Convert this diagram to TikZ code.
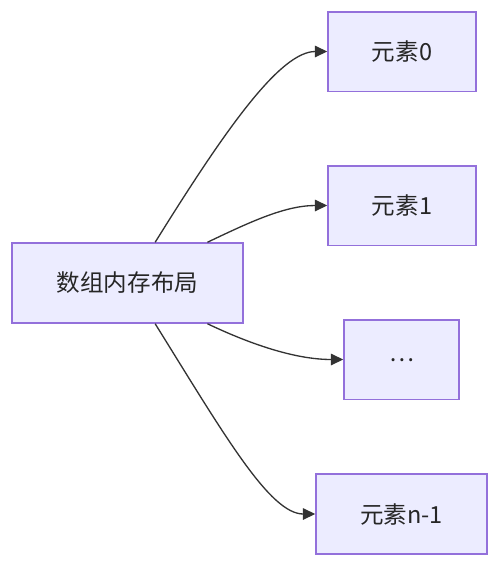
\documentclass[tikz,border=0pt]{standalone}
\usepackage{fontspec}
\setmainfont{Noto Sans CJK SC}
\usetikzlibrary{calc,arrows.meta}
\definecolor{boxfill}{HTML}{ECECFF}
\definecolor{boxline}{HTML}{9370DB}
\definecolor{edgeline}{HTML}{333333}
\tikzset{
	membox/.style={draw=boxline, fill=boxfill, line width=0.85pt, minimum height=1.59cm, inner sep=0pt, font=\fontsize{13.4}{16}\selectfont, text=black!85},
	link/.style={draw=edgeline, line width=0.75pt, -{Triangle[length=7pt, width=6.5pt]}}
}
\begin{document}
\begin{tikzpicture}[x=0.02cm, y=-0.02cm]
			%%%%% START %%%%%
			
			\useasboundingbox (0, 0) rectangle (499, 566);
			
			\node[membox, minimum width=4.62cm, minimum height=1.6cm] (layout) at (127.5, 283) {数组内存布局};
			
			\node[membox, minimum width=2.96cm] (elem0) at (402, 51.5) {元素0};
			\node[membox, minimum width=2.96cm] (elem1) at (402, 205.5) {元素1};
			\node[membox, minimum width=2.30cm] (elemdots) at (401.5, 359.5) {\raisebox{-3pt}{…}};
			\node[membox, minimum width=3.42cm, minimum height=1.6cm] (elemlast) at (401.5, 514) {元素n-1};
			
			\coordinate (outA) at ($(layout.north west)!0.619!(layout.north east)$);
			\coordinate (outB) at ($(layout.north west)!0.844!(layout.north east)$);
			\coordinate (outC) at ($(layout.south west)!0.844!(layout.south east)$);
			\coordinate (outD) at ($(layout.south west)!0.619!(layout.south east)$);
			
			\draw[link] (outA) .. controls (225, 130) and (280, 51.5) .. (elem0.west);
			\draw[link] (outB) .. controls (250, 222) and (285, 205.5) .. (elem1.west);
			\draw[link] (outC) .. controls (250, 344) and (295, 359.5) .. (elemdots.west);
			\draw[link] (outD) .. controls (225, 436) and (270, 514) .. (elemlast.west);
			
			%%%%% END %%%%%
\end{tikzpicture}
\end{document}
